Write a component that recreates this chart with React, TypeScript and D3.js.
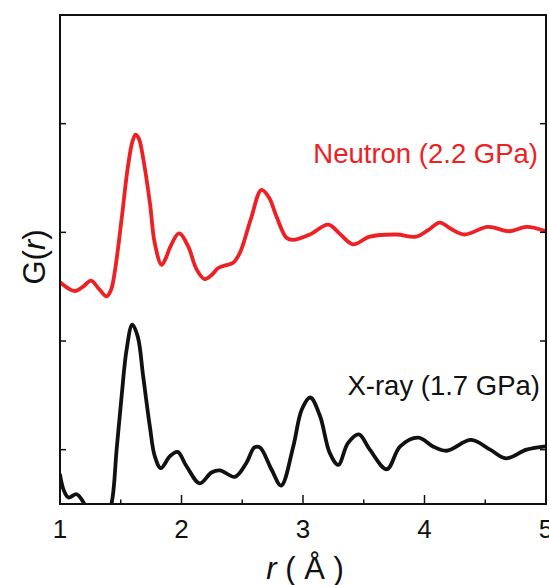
import React from "react";
import * as d3 from "d3";

const xTicks = [1, 2, 3, 4, 5];
const xMinorTicks = [1.5, 2.5, 3.5, 4.5];
const yTicks = [0, 1, 2, 3];

const neutronR = [1.0, 1.06, 1.123, 1.19, 1.255, 1.32, 1.384, 1.42, 1.45, 1.507, 1.556, 1.595, 1.622, 1.65, 1.677, 1.74, 1.78, 1.836, 1.87, 1.905, 1.98, 2.055, 2.124, 2.19, 2.25, 2.3, 2.343, 2.425, 2.48, 2.57, 2.658, 2.72, 2.78, 2.864, 2.918, 3.056, 3.207, 3.3, 3.41, 3.55, 3.77, 3.93, 4.03, 4.125, 4.22, 4.33, 4.52, 4.7, 4.84, 5.0];
const neutronG = [1.54, 1.49, 1.46, 1.5, 1.555, 1.48, 1.41, 1.47, 1.63, 2.12, 2.58, 2.83, 2.9, 2.86, 2.73, 2.27, 1.9, 1.7, 1.76, 1.86, 1.99, 1.87, 1.66, 1.57, 1.61, 1.67, 1.69, 1.72, 1.81, 2.12, 2.39, 2.32, 2.15, 1.95, 1.93, 1.98, 2.07, 1.99, 1.89, 1.96, 1.98, 1.96, 2.02, 2.09, 2.03, 1.98, 2.05, 2.01, 2.05, 2.01];

const xrayR = [1.0, 1.03, 1.07, 1.137, 1.19, 1.25, 1.32, 1.38, 1.425, 1.466, 1.507, 1.548, 1.595, 1.64, 1.685, 1.74, 1.78, 1.83, 1.905, 1.968, 2.04, 2.15, 2.247, 2.316, 2.44, 2.535, 2.6, 2.645, 2.74, 2.82, 2.92, 2.99, 3.06, 3.14, 3.22, 3.29, 3.37, 3.46, 3.55, 3.69, 3.8, 3.95, 4.07, 4.18, 4.385, 4.54, 4.67, 4.84, 5.0];
const xrayG = [-0.23, -0.37, -0.44, -0.41, -0.48, -0.62, -0.68, -0.62, -0.49, 0.0, 0.49, 0.92, 1.15, 1.04, 0.67, 0.21, -0.06, -0.17, -0.06, -0.02, -0.15, -0.31, -0.21, -0.19, -0.25, -0.12, 0.02, 0.02, -0.18, -0.33, 0.03, 0.37, 0.48, 0.31, -0.03, -0.14, 0.06, 0.14, 0.0, -0.18, 0.03, 0.11, 0.03, -0.01, 0.09, 0.0, -0.08, 0.0, 0.03];

const seriesLabels = ["Neutron (2.2 GPa)", "X-ray (1.7 GPa)"];

export default function App() {
  const W = 549, H = 585;
  const left = 60, right = 546, top = 15, bottom = 504;
  const x = d3.scaleLinear().domain([1, 5]).range([left, right]);
  const y = d3.scaleLinear().domain([-0.5, 4]).range([bottom, top]);
  const line = d3
    .line<[number, number]>()
    .x((d) => x(d[0]))
    .y((d) => y(d[1]))
    .curve(d3.curveCatmullRom.alpha(0.5));
  const nData = neutronR.map((r, i) => [r, neutronG[i]] as [number, number]);
  const xData = xrayR.map((r, i) => [r, xrayG[i]] as [number, number]);
  const font = "Liberation Sans, Arial, sans-serif";

  return (
    <svg width={W} height={H} style={{ position: "absolute", left: 0, top: 0 }} fontFamily={font}>
      <rect width={W} height={H} fill="#fff" />
      <defs>
        <clipPath id="plot">
          <rect x={left} y={top} width={right - left} height={bottom - top} />
        </clipPath>
      </defs>
      <g clipPath="url(#plot)" fill="none" strokeWidth={3.8} strokeLinejoin="round" strokeLinecap="round">
        <path d={line(nData) || ""} stroke="#ee2024" />
        <path d={line(xData) || ""} stroke="#111" />
      </g>
      <rect x={left} y={top} width={right - left} height={bottom - top} fill="none" stroke="#111" strokeWidth={2} />
      {yTicks.map((t) => (
        <g key={t}>
          <line x1={left} x2={left + 6} y1={y(t)} y2={y(t)} stroke="#111" strokeWidth={1.5} />
          <line x1={right - 6} x2={right} y1={y(t)} y2={y(t)} stroke="#111" strokeWidth={1.5} />
        </g>
      ))}
      {xTicks.map((t) => (
        <g key={t}>
          <line x1={x(t)} x2={x(t)} y1={bottom} y2={bottom - 9} stroke="#111" strokeWidth={1.5} />
          <text x={x(t)} y={538} fontSize={26} textAnchor="middle" fill="#111">
            {t}
          </text>
        </g>
      ))}
      {xMinorTicks.map((t) => (
        <line key={t} x1={x(t)} x2={x(t)} y1={bottom} y2={bottom - 4.5} stroke="#111" strokeWidth={1.5} />
      ))}
      <text x={305} y={579} fontSize={31} textAnchor="middle" fill="#111">
        <tspan fontStyle="italic">r</tspan>
        <tspan> ( Å )</tspan>
      </text>
      <text transform="translate(45,257) rotate(-90)" fontSize={31} textAnchor="middle" fill="#111">
        G(<tspan fontStyle="italic">r</tspan>)
      </text>
      <text x={538} y={163} fontSize={27.5} textAnchor="end" fill="#ee2024">
        {seriesLabels[0]}
      </text>
      <text x={540} y={395} fontSize={27.5} textAnchor="end" fill="#111">
        {seriesLabels[1]}
      </text>
    </svg>
  );
}
